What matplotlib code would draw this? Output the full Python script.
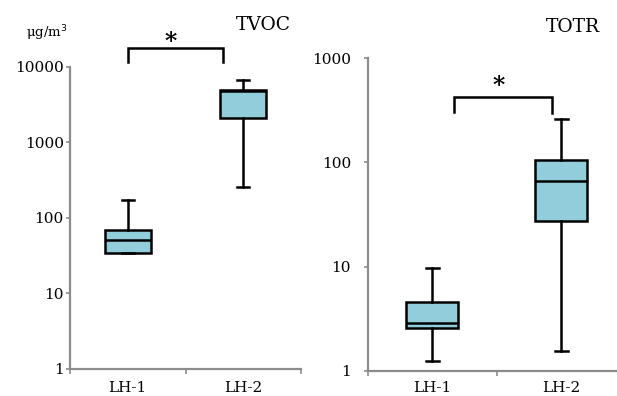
import matplotlib
matplotlib.use("Agg")
import matplotlib.pyplot as plt
from matplotlib.ticker import FixedLocator, FixedFormatter, NullLocator

# ---- data ----
categories = ["LH-1", "LH-2"]
tvoc_whislo = [34, 258]
tvoc_q1 = [34.5, 2110]
tvoc_med = [50.5, 4700]
tvoc_q3 = [69, 4900]
tvoc_whishi = [172, 6580]

totr_whislo = [1.25, 1.55]
totr_q1 = [2.55, 27.6]
totr_med = [2.89, 66]
totr_q3 = [4.6, 106]
totr_whishi = [9.6, 262]

tvoc_ticks = [1, 10, 100, 1000, 10000]
totr_ticks = [1, 10, 100, 1000]

FILL = "#92CDDC"
GRAY = "#8c8c8c"
FONT = "DejaVu Serif"

W, H = 617, 396
fig = plt.figure(figsize=(W / 100, H / 100), dpi=100)


def make_axes(rect, lo, hi, q1, med, q3, ticks, ypad, xpad):
    ax = fig.add_axes(rect)
    stats = []
    for i, c in enumerate(categories):
        stats.append(dict(label=c, whislo=lo[i], q1=q1[i], med=med[i],
                          q3=q3[i], whishi=hi[i], fliers=[]))
    ax.bxp(stats, positions=[0.5, 1.5], widths=0.4, patch_artist=True,
           showfliers=False,
           boxprops=dict(facecolor=FILL, edgecolor="black", linewidth=1.8),
           medianprops=dict(color="black", linewidth=1.8),
           whiskerprops=dict(color="black", linewidth=1.8),
           capprops=dict(color="black", linewidth=1.8),
           capwidths=0.1)
    ax.set_yscale("log")
    ax.set_ylim(ticks[0], ticks[-1])
    ax.set_xlim(0, 2)
    ax.yaxis.set_major_locator(FixedLocator(ticks))
    ax.yaxis.set_major_formatter(FixedFormatter([str(t) for t in ticks]))
    ax.yaxis.set_minor_locator(NullLocator())
    ax.xaxis.set_major_locator(FixedLocator([0, 1, 2]))
    ax.xaxis.set_major_formatter(FixedFormatter(["", "", ""]))
    ax.xaxis.set_minor_locator(FixedLocator([0.5, 1.5]))
    ax.xaxis.set_minor_formatter(FixedFormatter(categories))
    ax.tick_params(axis="x", which="minor", length=0, pad=xpad, labelsize=11)
    ax.tick_params(axis="x", which="major", length=3.5, width=1.2, color=GRAY)
    ax.tick_params(axis="y", which="major", length=3, width=1.2, color=GRAY,
                   pad=ypad, labelsize=11)
    for s in ["top", "right"]:
        ax.spines[s].set_visible(False)
    for s in ["left", "bottom"]:
        ax.spines[s].set_color(GRAY)
        ax.spines[s].set_linewidth(1.6)
    for lab in ax.get_xticklabels(minor=True) + ax.get_yticklabels():
        lab.set_fontfamily(FONT)
    ax.patch.set_alpha(0)
    return ax


ax1 = make_axes([70 / W, 1 - 369 / H, 231 / W, (369 - 66.7) / H],
                tvoc_whislo, tvoc_whishi, tvoc_q1, tvoc_med, tvoc_q3,
                tvoc_ticks, 1.5, 9)
ax2 = make_axes([367.7 / W, 1 - 370.7 / H, 258 / W, (370.7 - 58.3) / H],
                totr_whislo, totr_whishi, totr_q1, totr_med, totr_q3,
                totr_ticks, 9, 7.5)


def bracket(ax, x0, x1, y, yl, yr, xs, ys):
    ax.plot([x0, x0, x1, x1], [yl, y, y, yr], color="black", lw=1.8,
            clip_on=False, solid_joinstyle="miter")
    ax.text(xs, ys, "*", ha="center", va="center", fontsize=17,
            fontfamily=FONT, fontweight="bold", clip_on=False)


bracket(ax1, 0.504, 1.325, 17800, 11400, 11400, 0.87, 21500)
bracket(ax2, 0.669, 1.426, 429, 304, 297, 1.018, 540)

fig.text(263 / W, 1 - 25 / H, "TVOC", ha="center", va="center",
         fontsize=13.5, fontfamily=FONT)
fig.text(573 / W, 1 - 27 / H, "TOTR", ha="center", va="center",
         fontsize=13.5, fontfamily=FONT)
fig.text(46.7 / W, 1 - 33 / H, "μg/m$^3$", ha="center", va="center",
         fontsize=9.5, fontfamily=FONT)

fig.savefig("out.png", dpi=100)
